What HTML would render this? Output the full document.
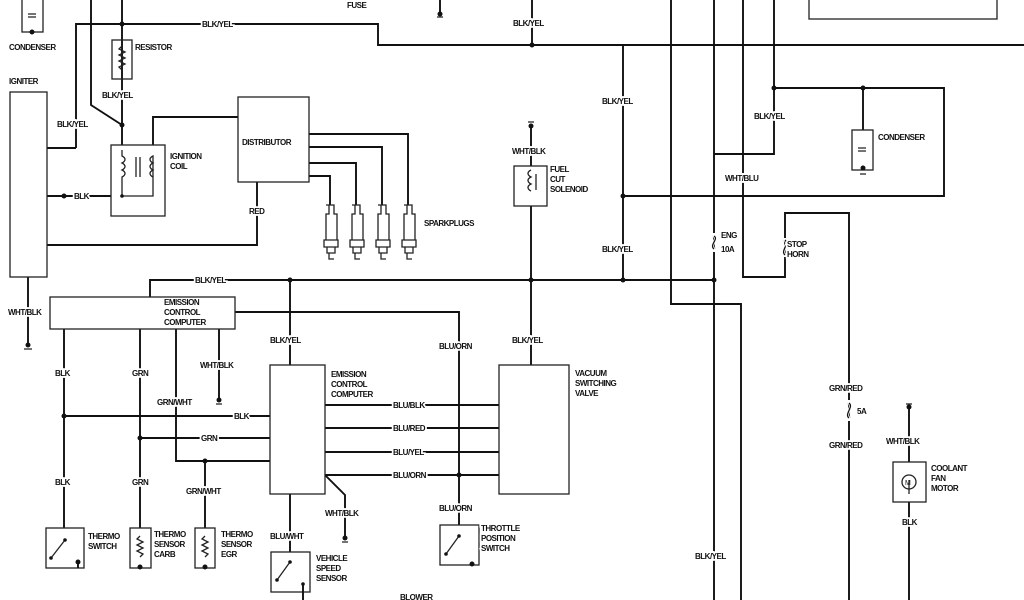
<!DOCTYPE html>
<html><head><meta charset="utf-8"><style>
html,body{margin:0;padding:0;background:#fff;}
svg{display:block}
text{font-family:"Liberation Sans",sans-serif;font-weight:bold;font-size:8px;fill:#111;letter-spacing:-0.5px;paint-order:stroke;stroke:#fff;stroke-width:3.5px;}
.w{fill:none;stroke:#111;stroke-width:1.9}
.b{fill:none;stroke:#222;stroke-width:1.3}
</style></head><body>
<svg width="1024" height="600" viewBox="0 0 1024 600" xmlns="http://www.w3.org/2000/svg">
<g class="w">
<path d="M91 0V105L122 125"/>
<path d="M122 0V145"/>
<path d="M76 148V24H378V45H1024"/>
<path d="M47 148H76"/>
<path d="M532 0V45"/>
<path d="M153 145V117H238"/>
<path d="M309 134H408V205M309 147H382V205M309 163H356V205M309 176H330V205"/>
<path d="M257 182V245H47"/>
<path d="M47 196H111"/>
<path d="M28 277V345"/>
<path d="M150 297V280H715"/>
<path d="M235 312H459V525"/>
<path d="M64 329V528M140 329V528M176 329V461H270M219 329V400M205 461V528"/>
<path d="M64 416H270M140 438H270"/>
<path d="M290 280V365M290 494V552"/>
<path d="M325 405H499M325 428H499M325 452H499M325 475H499"/>
<path d="M325 475L345 495V538"/>
<path d="M531 126V280M531 280V365"/>
<path d="M623 45V280"/>
<path d="M623 196H944V88H774"/>
<path d="M863 88V130"/>
<path d="M774 0V154H714"/>
<path d="M714 0V600"/>
<path d="M671 0V304H741V600"/>
<path d="M743 0V277H785V213H849V600"/>
<path d="M909 407V600"/>
</g>
<g class="b">
<rect x="22" y="-2" width="21" height="34"/>
<rect x="112" y="40" width="20" height="39"/>
<rect x="10" y="92" width="37" height="185"/>
<rect x="111" y="145" width="54" height="71"/>
<rect x="238" y="97" width="71" height="85"/>
<rect x="50" y="297" width="185" height="32" style="fill:#fff"/>
<rect x="270" y="365" width="55" height="129" style="fill:#fff"/>
<rect x="499" y="365" width="70" height="129" style="fill:#fff"/>
<rect x="514" y="166" width="33" height="40" style="fill:#fff"/>
<rect x="852" y="130" width="21" height="40" style="fill:#fff"/>
<rect x="809" y="-2" width="188" height="21"/>
<rect x="46" y="528" width="38" height="40" style="fill:#fff"/>
<rect x="130" y="528" width="21" height="40" style="fill:#fff"/>
<rect x="195" y="528" width="20" height="40" style="fill:#fff"/>
<rect x="271" y="552" width="39" height="40" style="fill:#fff"/>
<rect x="440" y="525" width="39" height="40" style="fill:#fff"/>
<rect x="893" y="462" width="33" height="40" style="fill:#fff"/>
<path d="M122 46l-3 3 6 3-6 3 6 3-6 3 6 3-6 3 3 3"/>
<path d="M140 536l-3 3 6 3-6 3 6 3-6 3 6 3-3 3"/>
<path d="M205 536l-3 3 6 3-6 3 6 3-6 3 6 3-3 3"/>
<path d="M122 150v6c4 2 4 5 0 7c4 2 4 5 0 7c4 2 4 5 0 7v19h31v-40c-4 2-4 5 0 7c-4 2-4 5 0 7c-4 2-4 5 0 7"/>
<path d="M136 157v20M140 157v20"/>
<path d="M531 170c-4 2-4 5 0 7c-4 2-4 5 0 7c-4 2-4 5 0 7M536 174v16"/>
<path d="M28 14h8M28 17h8M858 148h8M858 151h8"/>
<path d="M65 540L51 558M290 562L277 580M459 536L446 554"/>
<path d="M909 480v14"/>
<circle cx="909" cy="482" r="7"/>
<g id="sp"><path d="M326 205h8v9h3v26h-11v-26h3v-9zM324 240h14v7h-14zM327 247v6h8v-6M329 253v6h5"/></g>
<use href="#sp" x="26"/><use href="#sp" x="52"/><use href="#sp" x="78"/>
<path d="M437 17h6M24 349h8M216 404h6M342 542h6M528 122h6M906 404h6M860 174h6"/>
</g>
<g fill="#111">
<circle cx="32" cy="32" r="2.5"/><circle cx="122" cy="24" r="2.5"/><circle cx="122" cy="125" r="2.5"/>
<circle cx="122" cy="196" r="1.8"/><circle cx="64" cy="196" r="2.5"/>
<circle cx="532" cy="45" r="2.5"/><circle cx="290" cy="280" r="2.5"/><circle cx="531" cy="280" r="2.5"/>
<circle cx="623" cy="280" r="2.5"/><circle cx="714" cy="280" r="2.5"/><circle cx="623" cy="196" r="2.5"/>
<circle cx="774" cy="88" r="2.5"/><circle cx="863" cy="88" r="2.5"/><circle cx="863" cy="168" r="2.5"/>
<circle cx="64" cy="416" r="2.5"/><circle cx="140" cy="438" r="2.5"/><circle cx="205" cy="461" r="2.5"/>
<circle cx="459" cy="475" r="2.5"/><circle cx="28" cy="345" r="2.5"/><circle cx="219" cy="400" r="2.5"/>
<circle cx="345" cy="538" r="2.5"/><circle cx="531" cy="126" r="2.5"/><circle cx="909" cy="407" r="2.5"/>
<circle cx="440" cy="14" r="2.5"/>
<circle cx="65" cy="540" r="1.8"/><circle cx="51" cy="558" r="1.8"/><circle cx="78" cy="562" r="2.5"/>
<circle cx="140" cy="567" r="2.5"/><circle cx="205" cy="567" r="2.5"/>
<circle cx="290" cy="562" r="1.8"/><circle cx="277" cy="580" r="1.8"/><circle cx="303" cy="584" r="1.8"/>
<circle cx="459" cy="536" r="1.8"/><circle cx="446" cy="554" r="1.8"/><circle cx="472" cy="564" r="2.5"/>
<circle cx="714" cy="236" r="1.6"/><circle cx="714" cy="249" r="1.6"/>
<circle cx="785" cy="240" r="1.6"/><circle cx="785" cy="255" r="1.6"/>
<circle cx="849" cy="403" r="1.6"/><circle cx="849" cy="418" r="1.6"/>
</g>
<path d="M440 0V14" class="w"/>
<path d="M78 562v6M303 584v16" class="w"/>
<path d="M714 233v3c5 3-5 9 0 13v3M785 238v2c5 4-5 11 0 15v2M849 400v3c5 4-5 11 0 15v3" fill="none" stroke="#fff" stroke-width="3"/>
<path d="M714 236c5 3-5 9 0 13M785 240c5 4-5 11 0 15M849 403c5 4-5 11 0 15" fill="none" stroke="#111" stroke-width="1.3"/>
<text x="9" y="50">CONDENSER</text>
<text x="135" y="50">RESISTOR</text>
<text x="202" y="27">BLK/YEL</text>
<text x="102" y="98">BLK/YEL</text>
<text x="57" y="127">BLK/YEL</text>
<text x="9" y="84">IGNITER</text>
<text x="170" y="159">IGNITION</text><text x="170" y="169">COIL</text>
<text x="242" y="145">DISTRIBUTOR</text>
<text x="424" y="226">SPARKPLUGS</text>
<text x="249" y="214">RED</text>
<text x="74" y="199">BLK</text>
<text x="347" y="8">FUSE</text>
<text x="195" y="283">BLK/YEL</text>
<text x="8" y="315">WHT/BLK</text>
<text x="164" y="305" style="stroke:none">EMISSION</text><text x="164" y="315" style="stroke:none">CONTROL</text><text x="164" y="325" style="stroke:none">COMPUTER</text>
<text x="270" y="343">BLK/YEL</text>
<text x="331" y="377">EMISSION</text><text x="331" y="387">CONTROL</text><text x="331" y="397">COMPUTER</text>
<text x="55" y="376">BLK</text><text x="55" y="485">BLK</text>
<text x="132" y="376">GRN</text><text x="132" y="485">GRN</text>
<text x="157" y="405">GRN/WHT</text>
<text x="186" y="494">GRN/WHT</text>
<text x="200" y="368">WHT/BLK</text>
<text x="234" y="419">BLK</text>
<text x="201" y="441">GRN</text>
<text x="393" y="408">BLU/BLK</text><text x="393" y="431">BLU/RED</text>
<text x="393" y="455">BLU/YEL</text><text x="393" y="478">BLU/ORN</text>
<text x="325" y="516">WHT/BLK</text>
<text x="270" y="539">BLU/WHT</text>
<text x="316" y="561">VEHICLE</text><text x="316" y="571">SPEED</text><text x="316" y="581">SENSOR</text>
<text x="439" y="349">BLU/ORN</text>
<text x="439" y="511">BLU/ORN</text>
<text x="481" y="531">THROTTLE</text><text x="481" y="541">POSITION</text><text x="481" y="551">SWITCH</text>
<text x="88" y="539">THERMO</text><text x="88" y="549">SWITCH</text>
<text x="154" y="537">THERMO</text><text x="154" y="547">SENSOR</text><text x="154" y="557">CARB</text>
<text x="221" y="537">THERMO</text><text x="221" y="547">SENSOR</text><text x="221" y="557">EGR</text>
<text x="400" y="600">BLOWER</text>
<text x="512" y="343">BLK/YEL</text>
<text x="575" y="376">VACUUM</text><text x="575" y="386">SWITCHING</text><text x="575" y="396">VALVE</text>
<text x="512" y="154">WHT/BLK</text>
<text x="550" y="172">FUEL</text><text x="550" y="182">CUT</text><text x="550" y="192">SOLENOID</text>
<text x="513" y="26">BLK/YEL</text>
<text x="602" y="104">BLK/YEL</text><text x="602" y="252">BLK/YEL</text>
<text x="754" y="119">BLK/YEL</text>
<text x="725" y="181">WHT/BLU</text>
<text x="878" y="140">CONDENSER</text>
<text x="721" y="238">ENG</text><text x="721" y="252">10A</text>
<text x="787" y="247">STOP</text><text x="787" y="257">HORN</text>
<text x="695" y="559">BLK/YEL</text>
<text x="829" y="391">GRN/RED</text><text x="829" y="448">GRN/RED</text>
<text x="857" y="414">5A</text>
<text x="886" y="444">WHT/BLK</text>
<text x="931" y="471">COOLANT</text><text x="931" y="481">FAN</text><text x="931" y="491">MOTOR</text>
<text x="902" y="525">BLK</text>
<text x="905" y="485" style="stroke:none;font-weight:normal;font-size:7px">M</text>
</svg>
</body></html>
